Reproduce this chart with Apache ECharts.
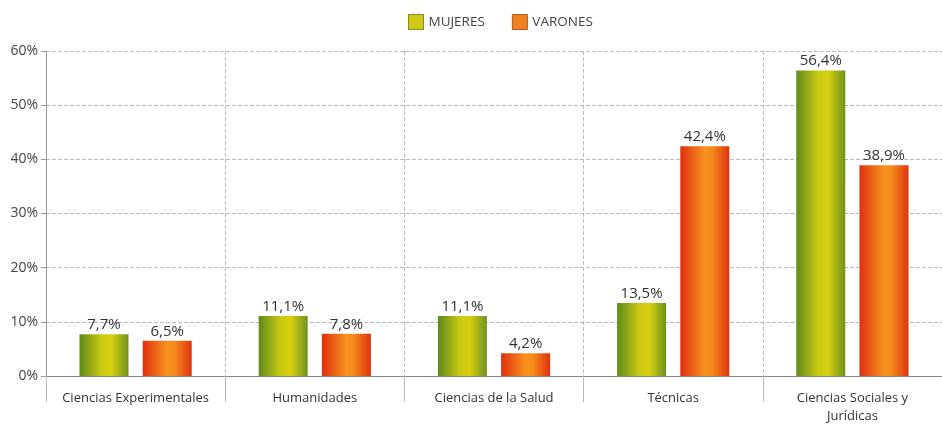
<!DOCTYPE html>
<html><head><meta charset="utf-8">
<script src="https://cdn.jsdelivr.net/npm/echarts@6/dist/echarts.min.js"></script>
<style>html,body{margin:0;padding:0;background:#fff;overflow:hidden}#c{width:942px;height:425px}</style>
</head><body><div id="c"></div>
<script>
const categories = ['Ciencias Experimentales','Humanidades','Ciencias de la Salud','Técnicas','Ciencias Sociales y\nJurídicas'];
const mujeres = [7.7, 11.1, 11.1, 13.5, 56.4];
const varones = [6.5, 7.8, 4.2, 42.4, 38.9];
const yTicks = [0, 10, 20, 30, 40, 50, 60];

const font = '"Open Sans", "Noto Sans", sans-serif';
const greenGrad = new echarts.graphic.LinearGradient(0,0,1,0,[
  {offset:0,color:'#5f8a1c'},{offset:0.45,color:'#c9c912'},{offset:0.65,color:'#d8d010'},{offset:1,color:'#6f9220'}]);
const orangeGrad = new echarts.graphic.LinearGradient(0,0,1,0,[
  {offset:0,color:'#e0300f'},{offset:0.5,color:'#f7921e'},{offset:0.65,color:'#f58a1c'},{offset:1,color:'#e0320f'}]);
const fmt = p => p.value.toFixed(1).replace('.', ',') + '%';

const chart = echarts.init(document.getElementById('c'));
chart.setOption({
  animation:false,
  textStyle:{fontFamily:font},
  legend:{
    top:9, left:403, itemWidth:15, itemHeight:15, itemGap:27, icon:'rect',
    textStyle:{fontFamily:font,fontSize:13.5,color:'#444'},
    data:[{name:'MUJERES',itemStyle:{color:'#cfc81a',borderColor:'#8a8a20',borderWidth:1}},
          {name:'VARONES',itemStyle:{color:'#f08020',borderColor:'#b05a18',borderWidth:1}}]
  },
  grid:{left:46,right:-4,top:51,bottom:42},
  xAxis:{
    type:'category', data:categories,
    axisLine:{lineStyle:{color:'#888',width:1}},
    axisTick:{show:true,length:26,interval:0,alignWithLabel:false,lineStyle:{color:'#bbb'}},
    axisLabel:{fontFamily:font,fontSize:13,color:'#333',margin:13,lineHeight:18,interval:0},
    splitLine:{show:true,interval:0,lineStyle:{color:'#bbb',type:'dashed'}}
  },
  yAxis:{
    type:'value', min:yTicks[0], max:yTicks[yTicks.length-1], interval:10,
    axisLine:{show:true,lineStyle:{color:'#999'}},
    axisTick:{show:true,length:5,lineStyle:{color:'#999'}},
    axisLabel:{fontFamily:font,fontSize:14,color:'#444',formatter:'{value}%',margin:8},
    splitLine:{lineStyle:{color:'#bbb',type:'dashed'}}
  },
  series:[
    {name:'MUJERES',type:'bar',data:mujeres,barWidth:49,barGap:'29%',
     itemStyle:{color:greenGrad},
     label:{show:true,position:'top',distance:2,formatter:fmt,fontFamily:font,fontSize:15,color:'#333'}},
    {name:'VARONES',type:'bar',data:varones,barWidth:49,
     itemStyle:{color:orangeGrad},
     label:{show:true,position:'top',distance:2,formatter:fmt,fontFamily:font,fontSize:15,color:'#333'}}
  ]
});
</script></body></html>
